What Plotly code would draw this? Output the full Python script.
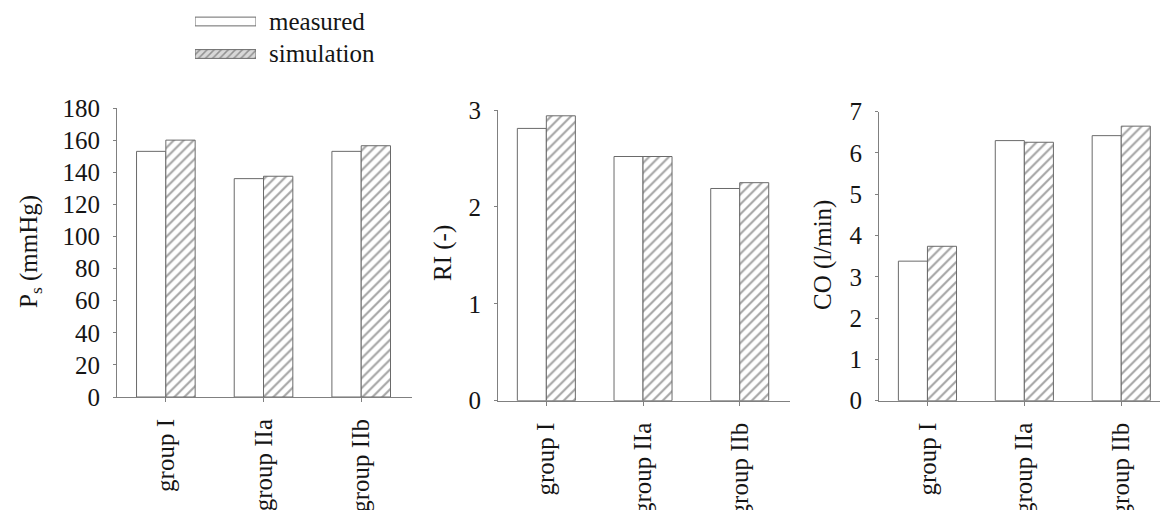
import plotly.graph_objects as go

groups = ["group I", "group IIa", "group IIb"]
ps_measured = [153, 136, 153]
ps_simulation = [160, 137.5, 156.5]
ri_measured = [2.81, 2.52, 2.19]
ri_simulation = [2.94, 2.52, 2.25]
co_measured = [3.38, 6.3, 6.42]
co_simulation = [3.74, 6.26, 6.65]
legend_labels = ["simulation", "measured"]
legend_values = [1, 1]

W, H = 1160, 510
FONT = "Liberation Serif"
TXT = "#151515"
LINE = "#808080"
BAR_LINE = "#6a6a6a"
HATCH = "#4a4a4a"


def px_x(a, b):
    return [a / W, b / W]


def px_y(top, bottom):
    return [1 - bottom / H, 1 - top / H]


fig = go.Figure()

panels = [
    (ps_measured, ps_simulation, "x", "y"),
    (ri_measured, ri_simulation, "x2", "y2"),
    (co_measured, co_simulation, "x3", "y3"),
]

for meas, sim, xa, ya in panels:
    fig.add_trace(go.Bar(
        x=groups, y=meas, xaxis=xa, yaxis=ya, name="measured",
        marker=dict(color="white", line=dict(color=BAR_LINE, width=1)),
        showlegend=False,
    ))
    fig.add_trace(go.Bar(
        x=groups, y=sim, xaxis=xa, yaxis=ya, name="simulation",
        marker=dict(color="white", line=dict(color=BAR_LINE, width=1),
                    pattern=dict(shape="/", fgcolor=HATCH, bgcolor="white",
                                 size=7, solidity=0.3)),
        showlegend=False,
    ))

# legend swatches drawn as horizontal bars on a hidden axis
fig.add_trace(go.Bar(
    x=[legend_values[1]], y=[legend_labels[1]], orientation="h",
    xaxis="x4", yaxis="y4", width=0.27, showlegend=False,
    marker=dict(color="white", line=dict(color=BAR_LINE, width=1)),
))
fig.add_trace(go.Bar(
    x=[legend_values[0]], y=[legend_labels[0]], orientation="h",
    xaxis="x4", yaxis="y4", width=0.27, showlegend=False,
    marker=dict(color="white", line=dict(color=BAR_LINE, width=1),
                pattern=dict(shape="/", fgcolor=HATCH, bgcolor="#d8d8d8",
                             size=5, solidity=0.3)),
))

tickfont = dict(family=FONT, size=25, color=TXT)


def xaxis(domain, anchor, rng):
    return dict(domain=domain, anchor=anchor, range=rng, showline=True,
                linecolor=LINE, linewidth=1, ticks="outside", ticklen=4,
                tickcolor=LINE, tickangle=-90, tickfont=tickfont,
                ticklabelstandoff=7, showgrid=False, zeroline=False,
                fixedrange=True, automargin=False)


def yaxis(domain, anchor, rng, dtick):
    return dict(domain=domain, anchor=anchor, range=rng, dtick=dtick,
                showline=True, linecolor=LINE, linewidth=1, ticks="outside",
                ticklen=3, tickcolor=LINE, tickfont=tickfont,
                ticklabelstandoff=8, showgrid=False, zeroline=False,
                fixedrange=True, automargin=False)


fig.update_layout(
    width=W, height=H,
    margin=dict(l=0, r=0, t=0, b=0, pad=0, autoexpand=False),
    paper_bgcolor="white", plot_bgcolor="white",
    barmode="group", bargap=0.4, bargroupgap=0,
    font=dict(family=FONT, size=25, color=TXT),
    xaxis=xaxis(px_x(117, 412), "y", [-0.5, 2.52]),
    yaxis=yaxis(px_y(108, 397), "x", [0, 180], 20),
    xaxis2=xaxis(px_x(498, 790), "y2", [-0.5, 2.52]),
    yaxis2=yaxis(px_y(110, 400.7), "x2", [0, 3], 1),
    xaxis3=xaxis(px_x(879, 1160), "y3", [-0.5, 2.4]),
    yaxis3=yaxis(px_y(111.7, 400.7), "x3", [0, 7], 1),
    xaxis4=dict(domain=px_x(195, 256), anchor="y4", range=[0, 1],
                visible=False, fixedrange=True, automargin=False),
    yaxis4=dict(domain=px_y(5.25, 70.25), anchor="x4", range=[-0.5, 1.5],
                visible=False, fixedrange=True, automargin=False,
                categoryorder="array", categoryarray=legend_labels),
)

annotations = [
    dict(text="measured", x=267 / W, y=1 - 21.5 / H, xanchor="left", yanchor="middle"),
    dict(text="simulation", x=267 / W, y=1 - 54 / H, xanchor="left", yanchor="middle"),
    dict(text="P<sub>s</sub> (mmHg)", x=30 / W, y=1 - 252 / H, textangle=-90,
         xanchor="center", yanchor="middle"),
    dict(text="RI (-)", x=443 / W, y=1 - 253 / H, textangle=-90,
         xanchor="center", yanchor="middle"),
    dict(text="CO (l/min)", x=823 / W, y=1 - 255 / H, textangle=-90,
         xanchor="center", yanchor="middle"),
]
for a in annotations:
    a.update(xref="paper", yref="paper", showarrow=False,
             font=dict(family=FONT, size=25, color=TXT))
fig.update_layout(annotations=annotations)

fig.write_html("out.html", config={"displayModeBar": False},
               post_script="document.body.style.margin='0';"
                           "document.body.style.overflow='hidden';")
